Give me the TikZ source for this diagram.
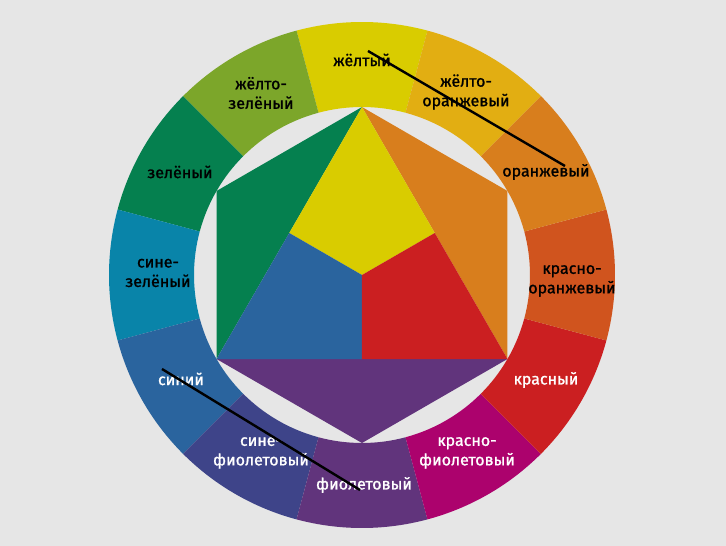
\documentclass[tikz,border=0pt]{standalone}
\usepackage{fontspec}
\newfontfamily\wheelfont{Fira Sans}[FakeBold=1.2]
\definecolor{bggray}{HTML}{E6E6E6}
\definecolor{cyel}{HTML}{D9CC00}
\definecolor{cyelgrn}{HTML}{7CA62A}
\definecolor{cgrn}{HTML}{05804F}
\definecolor{cbluegrn}{HTML}{0984A9}
\definecolor{cblue}{HTML}{2A649E}
\definecolor{cblueviol}{HTML}{3E4489}
\definecolor{cviol}{HTML}{61347C}
\definecolor{credviol}{HTML}{AC026D}
\definecolor{cred}{HTML}{CB1F21}
\definecolor{credor}{HTML}{D0541E}
\definecolor{cor}{HTML}{D87E1D}
\definecolor{cyelor}{HTML}{E2AE12}

\begin{document}
\begin{tikzpicture}[x=1pt, y=1pt, every node/.style={font=\wheelfont\fontsize{16}{19.5}\selectfont, align=center, inner sep=0pt}, dark/.style={text=black}, light/.style={text=white}]
	\useasboundingbox[fill=bggray] (-362,-271) rectangle (364,275);
	\foreach \a/\c in {90/cyel,120/cyelgrn,150/cgrn,180/cbluegrn,210/cblue,240/cblueviol,270/cviol,300/credviol,330/cred,360/credor,30/cor,60/cyelor} {\fill[\c] (\a-15:253) arc[start angle=\a-15, end angle=\a+15, radius=253] -- (\a+15:168) arc[start angle=\a+15, end angle=\a-15, radius=168] -- cycle;}
	\fill[cgrn] (90:168) -- (150:168) -- (210:168) -- cycle;
	\fill[cor] (90:168) -- (30:168) -- (330:168) -- cycle;
	\fill[cviol] (210:168) -- (270:168) -- (330:168) -- cycle;
	\fill[cyel] (90:168) -- (150:84) -- (0,0) -- (30:84) -- cycle;
	\fill[cblue] (150:84) -- (210:168) -- (270:84) -- (0,0) -- cycle;
	\fill[cred] (30:84) -- (0,0) -- (270:84) -- (330:168) -- cycle;
	\node[dark] (yel) at (0,215) {жёлтый};
	\node[dark] (yelgrn) at (-101,182) {жёлто-\\зелёный};
	\node[dark] (grn) at (-182,103) {зелёный};
	\node[dark] (bluegrn) at (-204,2) {сине-\\зелёный};
	\node[light] (blue) at (-181,-104) {синий};
	\node[light] (blueviol) at (-101,-178) {сине-\\фиолетовый};
	\node[light] (viol) at (2,-210) {фиолетовый};
	\node[light] (redviol) at (105,-178) {красно-\\фиолетовый};
	\node[light] (red) at (184,-105) {красный};
	\node[dark] (redor) at (210,-6) {красно-\\оранжевый};
	\node[dark] (or) at (184,103) {оранжевый};
	\node[dark] (yelor) at (104,183) {жёлто-\\оранжевый};
	\coordinate (s1) at (6,224);
	\coordinate (e1) at (203,109);
	\coordinate (s2) at (-200,-94);
	\coordinate (e2) at (-2,-215);
	\draw[line width=2.4pt] (s1) -- (e1);
	\draw[line width=2.4pt] (s2) -- (e2);
\end{tikzpicture}
\end{document}
